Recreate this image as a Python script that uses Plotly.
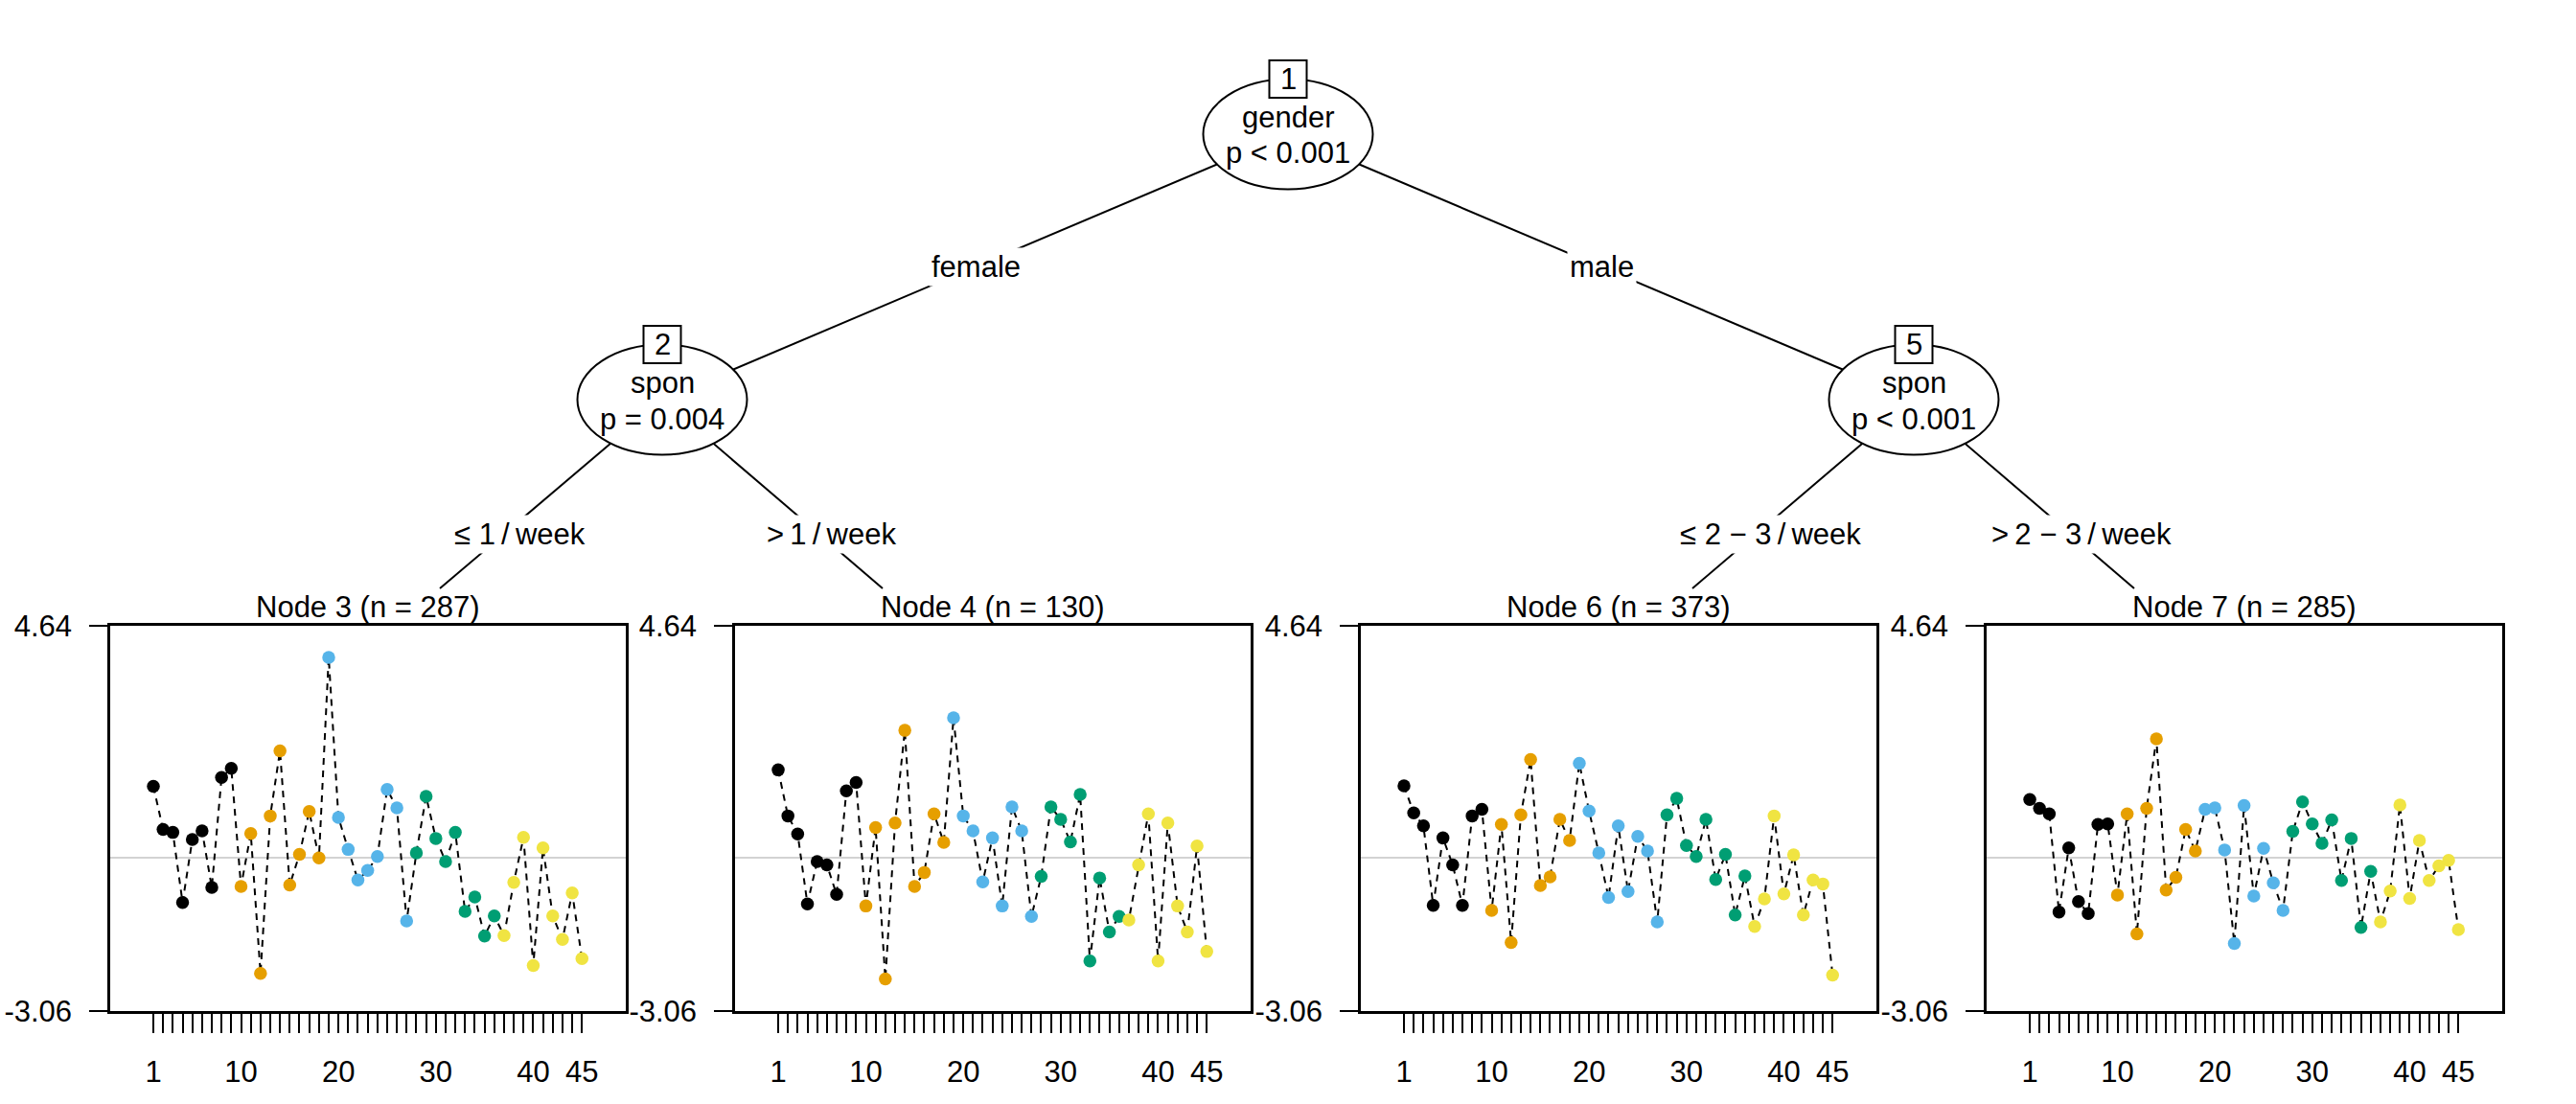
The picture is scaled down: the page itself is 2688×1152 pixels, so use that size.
import plotly.graph_objects as go

# canvas in px
W, H = 2688, 1152

items = list(range(1, 46))
group_colors = ["#000000", "#E69F00", "#56B4E9", "#009E73", "#F0E442"]
tick_labels = {1: "1", 10: "10", 20: "20", 30: "30", 40: "40", 45: "45"}
y_min, y_max = -3.06, 4.64

node_titles = ["Node 3 (n = 287)", "Node 4 (n = 130)", "Node 6 (n = 373)", "Node 7 (n = 285)"]

node3 = [1.43, 0.57, 0.51, -0.89, 0.37, 0.54, -0.59, 1.61, 1.79,
         -0.57, 0.49, -2.31, 0.84, 2.14, -0.54, 0.07, 0.93, 0.00,
         4.01, 0.81, 0.17, -0.44, -0.25, 0.03, 1.37, 1.00, -1.26,
         0.10, 1.23, 0.39, -0.07, 0.51, -1.07, -0.78, -1.56, -1.16,
         -1.55, -0.49, 0.41, -2.15, 0.20, -1.16, -1.63, -0.70, -2.01]
node4 = [1.76, 0.84, 0.48, -0.92, -0.07, -0.14, -0.73, 1.34, 1.51,
         -0.96, 0.61, -2.42, 0.70, 2.55, -0.57, -0.29, 0.88, 0.31,
         2.80, 0.84, 0.54, -0.48, 0.40, -0.96, 1.02, 0.54, -1.17,
         -0.37, 1.02, 0.77, 0.32, 1.27, -2.06, -0.40, -1.48, -1.17,
         -1.24, -0.14, 0.88, -2.06, 0.70, -0.96, -1.48, 0.24, -1.87]
node6 = [1.44, 0.90, 0.64, -0.95, 0.40, -0.14, -0.95, 0.84, 0.97,
         -1.05, 0.67, -1.69, 0.86, 1.97, -0.55, -0.38, 0.77, 0.35,
         1.89, 0.94, 0.10, -0.79, 0.64, -0.67, 0.43, 0.14, -1.28,
         0.86, 1.19, 0.25, 0.03, 0.77, -0.43, 0.07, -1.14, -0.36,
         -1.37, -0.82, 0.84, -0.72, 0.06, -1.14, -0.44, -0.52, -2.34]
node7 = [1.17, 0.99, 0.88, -1.08, 0.20, -0.87, -1.11, 0.67, 0.68,
         -0.74, 0.88, -1.52, 0.99, 2.38, -0.64, -0.39, 0.57, 0.14,
         0.97, 1.00, 0.16, -1.71, 1.05, -0.76, 0.19, -0.50, -1.05,
         0.53, 1.12, 0.68, 0.29, 0.76, -0.45, 0.39, -1.39, -0.27,
         -1.28, -0.66, 1.06, -0.81, 0.35, -0.45, -0.16, -0.05, -1.43]
panels = [node3, node4, node6, node7]

# inner nodes: id, variable, p-value text
inner_nodes = [("1", "gender", "p < 0.001"), ("2", "spon", "p = 0.004"), ("5", "spon", "p < 0.001")]
edge_labels = ["female", "male",
               "≤ 1\u2009/\u2009week", ">\u20091\u2009/\u2009week",
               "≤ 2 − 3\u2009/\u2009week", ">\u20092 − 3\u2009/\u2009week"]

FONT = "Liberation Sans, Arial, Helvetica, sans-serif"
FS = 31


def X(px):
    return px / W


def Y(py):
    return 1 - py / H


point_colors = [group_colors[(i - 1) // 9] for i in items]

fig = go.Figure()

panel_left = [115, 767, 1420, 2073]
panel_w = 538
panel_top, panel_bot = 653, 1055

for k, vals in enumerate(panels):
    xa = "x" if k == 0 else f"x{k+1}"
    ya = "y" if k == 0 else f"y{k+1}"
    fig.add_trace(go.Scatter(
        x=items, y=vals, xaxis=xa, yaxis=ya, mode="lines+markers",
        line=dict(color="black", width=2, dash="7px,6px"),
        marker=dict(color=point_colors, size=13.5, line=dict(width=0)),
        showlegend=False, hoverinfo="x+y",
    ))
    ax = dict(
        domain=[X(panel_left[k]), X(panel_left[k] + panel_w)],
        range=[-3.43, 49.5], tickmode="array", tickvals=items,
        ticktext=[tick_labels.get(i, "") for i in items],
        ticks="outside", ticklen=20, tickwidth=2, tickcolor="black",
        showline=True, linecolor="black", linewidth=2.5, mirror=True,
        showgrid=False, zeroline=False, ticklabelstandoff=14, automargin=False,
        tickfont=dict(family=FONT, size=FS, color="black"), anchor=ya,
    )
    ay = dict(
        domain=[Y(panel_bot), Y(panel_top)],
        range=[y_min - 0.0001, y_max + 0.0001], tickmode="array",
        tickvals=[y_min, y_max], ticktext=[f"{y_min:.2f}", f"{y_max:.2f}"],
        ticks="outside", ticklen=19, tickwidth=2, tickcolor="black",
        showline=True, linecolor="black", linewidth=2.5, mirror=True,
        showgrid=False, zeroline=True, zerolinecolor="#D3D3D3", zerolinewidth=2,
        ticklabelstandoff=12, automargin=False,
        tickfont=dict(family=FONT, size=FS, color="black"), anchor=xa,
    )
    fig.update_layout({("xaxis" if k == 0 else f"xaxis{k+1}"): ax,
                       ("yaxis" if k == 0 else f"yaxis{k+1}"): ay})

shapes = []
annotations = []

# tree geometry in px
root = (1344, 140)
n2 = (691, 417)
n5 = (1997, 417)
ends = [(459, 614), (921, 614), (1766, 614), (2227, 614)]
edges = [(root, n2), (root, n5), (n2, ends[0]), (n2, ends[1]), (n5, ends[2]), (n5, ends[3])]
label_pos = [(1018, 278), (1671, 278), (542, 557), (867, 557), (1847, 557), (2172, 557)]

for (a, b) in edges:
    shapes.append(dict(type="line", xref="paper", yref="paper",
                       x0=X(a[0]), y0=Y(a[1]), x1=X(b[0]), y1=Y(b[1]),
                       line=dict(color="black", width=2)))

ew, eh, bs = 177, 115, 39
for (nid, var, pv), c in zip(inner_nodes, [root, n2, n5]):
    shapes.append(dict(type="circle", xref="paper", yref="paper",
                       x0=X(c[0] - ew / 2), x1=X(c[0] + ew / 2),
                       y0=Y(c[1] + eh / 2), y1=Y(c[1] - eh / 2),
                       fillcolor="white", line=dict(color="black", width=2)))
    top = c[1] - eh / 2
    shapes.append(dict(type="rect", xref="paper", yref="paper",
                       x0=X(c[0] - bs / 2), x1=X(c[0] + bs / 2),
                       y0=Y(top + bs / 2), y1=Y(top - bs / 2),
                       fillcolor="white", line=dict(color="black", width=2)))
    annotations.append(dict(x=X(c[0]), y=Y(top), text=nid, showarrow=False))
    annotations.append(dict(x=X(c[0]), y=Y(c[1] - 18), text=var, showarrow=False))
    annotations.append(dict(x=X(c[0]), y=Y(c[1] + 20), text=pv, showarrow=False))

for txt, (lx, ly) in zip(edge_labels, label_pos):
    annotations.append(dict(x=X(lx), y=Y(ly), text=txt, showarrow=False,
                            bgcolor="white", borderpad=2))

for k, t in enumerate(node_titles):
    annotations.append(dict(x=X(panel_left[k] + panel_w / 2), y=Y(633), text=t,
                            showarrow=False))

for a in annotations:
    a.update(xref="paper", yref="paper", xanchor="center", yanchor="middle",
             font=dict(family=FONT, size=FS, color="black"))

fig.update_layout(
    width=W, height=H, margin=dict(l=0, r=0, t=0, b=0, pad=0, autoexpand=False),
    paper_bgcolor="white", plot_bgcolor="white",
    shapes=shapes, annotations=annotations,
    font=dict(family=FONT, size=FS, color="black"),
)

# page body has a default 8px margin; drop it so the figure fills the window
fig.write_html("out.html", config={"displayModeBar": False},
               post_script="document.body.style.margin='0';document.body.style.overflow='hidden';")
